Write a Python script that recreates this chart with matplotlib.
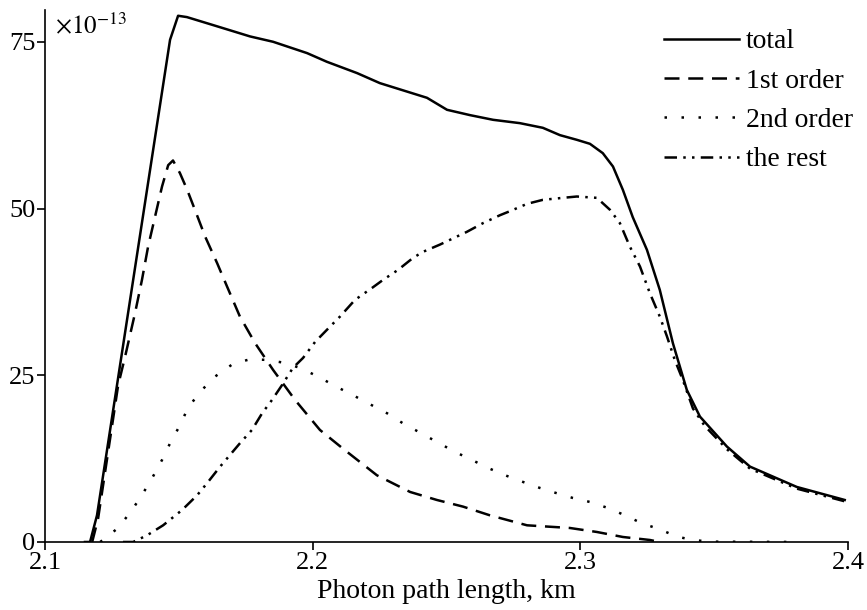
import matplotlib
matplotlib.use("Agg")
import matplotlib.pyplot as plt

# values (y in units of 1e-13)
total_x = [2.1149, 2.1168, 2.1194, 2.1467, 2.1497, 2.1530, 2.1628, 2.1766, 2.1852,
           2.1979, 2.2053, 2.2166, 2.2251, 2.2427, 2.2502, 2.2588, 2.2674, 2.2774,
           2.2860, 2.2924, 2.2987, 2.3036, 2.3084, 2.3122, 2.3159, 2.3196, 2.3249,
           2.3297, 2.3346, 2.3398, 2.3447, 2.3548, 2.3634, 2.3809, 2.3988]
total_y = [0, 0, 4.0, 75.3, 78.9, 78.7, 77.5, 75.8, 75.0,
           73.3, 72.0, 70.3, 68.8, 66.6, 64.8, 64.0, 63.3, 62.8,
           62.1, 61.0, 60.3, 59.7, 58.3, 56.3, 52.8, 48.7, 43.8,
           37.8, 29.8, 22.8, 18.8, 14.3, 11.3, 8.25, 6.3]

first_x = [2.1176, 2.1198, 2.1273, 2.1299, 2.1336, 2.1362, 2.1385, 2.1411, 2.1437,
           2.1460, 2.1478, 2.1504, 2.1531, 2.1560, 2.1598, 2.1643, 2.1680, 2.1728,
           2.1785, 2.1852, 2.1934, 2.2027, 2.2113, 2.2240, 2.2364, 2.2464, 2.2562,
           2.2662, 2.2801, 2.2961, 2.3062, 2.3159, 2.3260, 2.3297]
first_y = [0, 3.5, 23.5, 27.8, 34.3, 39.3, 44.3, 48.8, 53.3,
           56.5, 57.2, 55.3, 52.8, 49.8, 45.8, 41.8, 38.3, 33.8,
           29.8, 25.8, 21.3, 16.8, 14.0, 10.0, 7.5, 6.3, 5.3,
           4.0, 2.5, 2.1, 1.5, 0.75, 0.3, 0]

second_x = [2.1206, 2.1273, 2.1325, 2.1366, 2.1403, 2.1437, 2.1467, 2.1504, 2.1534,
            2.1579, 2.1635, 2.1702, 2.1766, 2.1829, 2.1889, 2.1953, 2.2020, 2.2083,
            2.2151, 2.2207, 2.2278, 2.2337, 2.2401, 2.2464, 2.2532, 2.2595, 2.2655,
            2.2726, 2.2786, 2.2849, 2.2913, 2.2972, 2.3036, 2.3103, 2.3167, 2.3230,
            2.3297, 2.3361, 2.3421, 2.3484, 2.3820]
second_y = [0, 2.1, 4.8, 7.3, 9.8, 12.3, 14.8, 17.5, 20.1,
            22.5, 24.8, 26.7, 27.4, 27.3, 26.9, 26.1, 24.8, 23.4,
            22.0, 20.8, 19.3, 17.8, 16.4, 15.0, 13.5, 12.3, 11.1,
            9.9, 9.0, 8.1, 7.3, 6.6, 6.0, 5.1, 4.0, 2.8,
            1.9, 0.8, 0.3, 0.05, 0]

rest_x = [2.1291, 2.1329, 2.1381, 2.1441, 2.1512, 2.1568, 2.1605, 2.1654, 2.1728,
          2.1773, 2.1811, 2.1848, 2.1885, 2.1926, 2.1964, 2.2009, 2.2065, 2.2102,
          2.2158, 2.2222, 2.2263, 2.2319, 2.2375, 2.2412, 2.2476, 2.2539, 2.2576,
          2.2636, 2.2700, 2.2737, 2.2801, 2.2860, 2.2935, 2.2987, 2.3062, 2.3111,
          2.3148, 2.3185, 2.3223, 2.3260, 2.3297, 2.3324, 2.3353, 2.3383, 2.3421,
          2.3465, 2.3548, 2.3634, 2.3809, 2.3988]
rest_y = [0, 0, 1.0, 2.5, 4.8, 7.0, 8.8, 11.3, 14.8,
          16.8, 19.3, 21.3, 23.5, 26.1, 27.6, 30.0, 32.3, 33.8,
          36.3, 38.1, 39.3, 40.8, 42.6, 43.5, 44.6, 45.8, 46.5,
          47.8, 49.0, 49.6, 50.7, 51.3, 51.6, 51.8, 51.6, 49.8,
          47.8, 44.3, 41.3, 37.3, 33.8, 30.8, 27.3, 24.3, 20.0,
          17.4, 13.9, 11.0, 8.0, 6.1]

labels = ["total", "1st order", "2nd order", "the rest"]

plt.rcParams["font.family"] = ["Liberation Serif", "DejaVu Serif"]
plt.rcParams["mathtext.fontset"] = "stix"

fig = plt.figure(figsize=(8.67, 6.10), dpi=100)
ax = fig.add_axes([0.052, 0.1115, 0.926, 0.8725])

lw = 1.8
ax.plot(total_x, total_y, color="black", lw=lw, ls="-", label=labels[0])
ax.plot(first_x, first_y, color="black", lw=lw, ls=(0, (6, 3.5)), label=labels[1])
ax.plot(second_x, second_y, color="black", lw=lw, ls=(0, (1, 5.8)), label=labels[2])
ax.plot(rest_x, rest_y, color="black", lw=lw, ls=(0, (5, 2.5, 1, 2.5, 1, 2.5)), label=labels[3])

ax.set_xlim(2.1, 2.4)
ax.set_ylim(0, 79.8)
ax.set_xticks([2.1, 2.2, 2.3, 2.4])
ax.set_xticklabels(["2.1", "2.2", "2.3", "2.4"])
ax.set_yticks([0, 25, 50, 75])

for side in ["top", "right"]:
    ax.spines[side].set_visible(False)
ax.spines["left"].set_linewidth(1.2)
ax.spines["bottom"].set_linewidth(1.2)
ax.tick_params(direction="out", length=6, width=1.2, labelsize=19, pad=1)

ax.set_xlabel("Photon path length, km", fontsize=20, labelpad=4)
ax.text(0.012, 0.995, r"$\times10^{-13}$", transform=ax.transAxes,
        fontsize=18, va="top", ha="left")

ax.legend(loc="upper right", frameon=False, fontsize=20, handlelength=2.7,
          labelspacing=0.5, handletextpad=0.25, borderaxespad=0.1,
          bbox_to_anchor=(1.024, 0.99))

fig.savefig("out.png", dpi=100)
